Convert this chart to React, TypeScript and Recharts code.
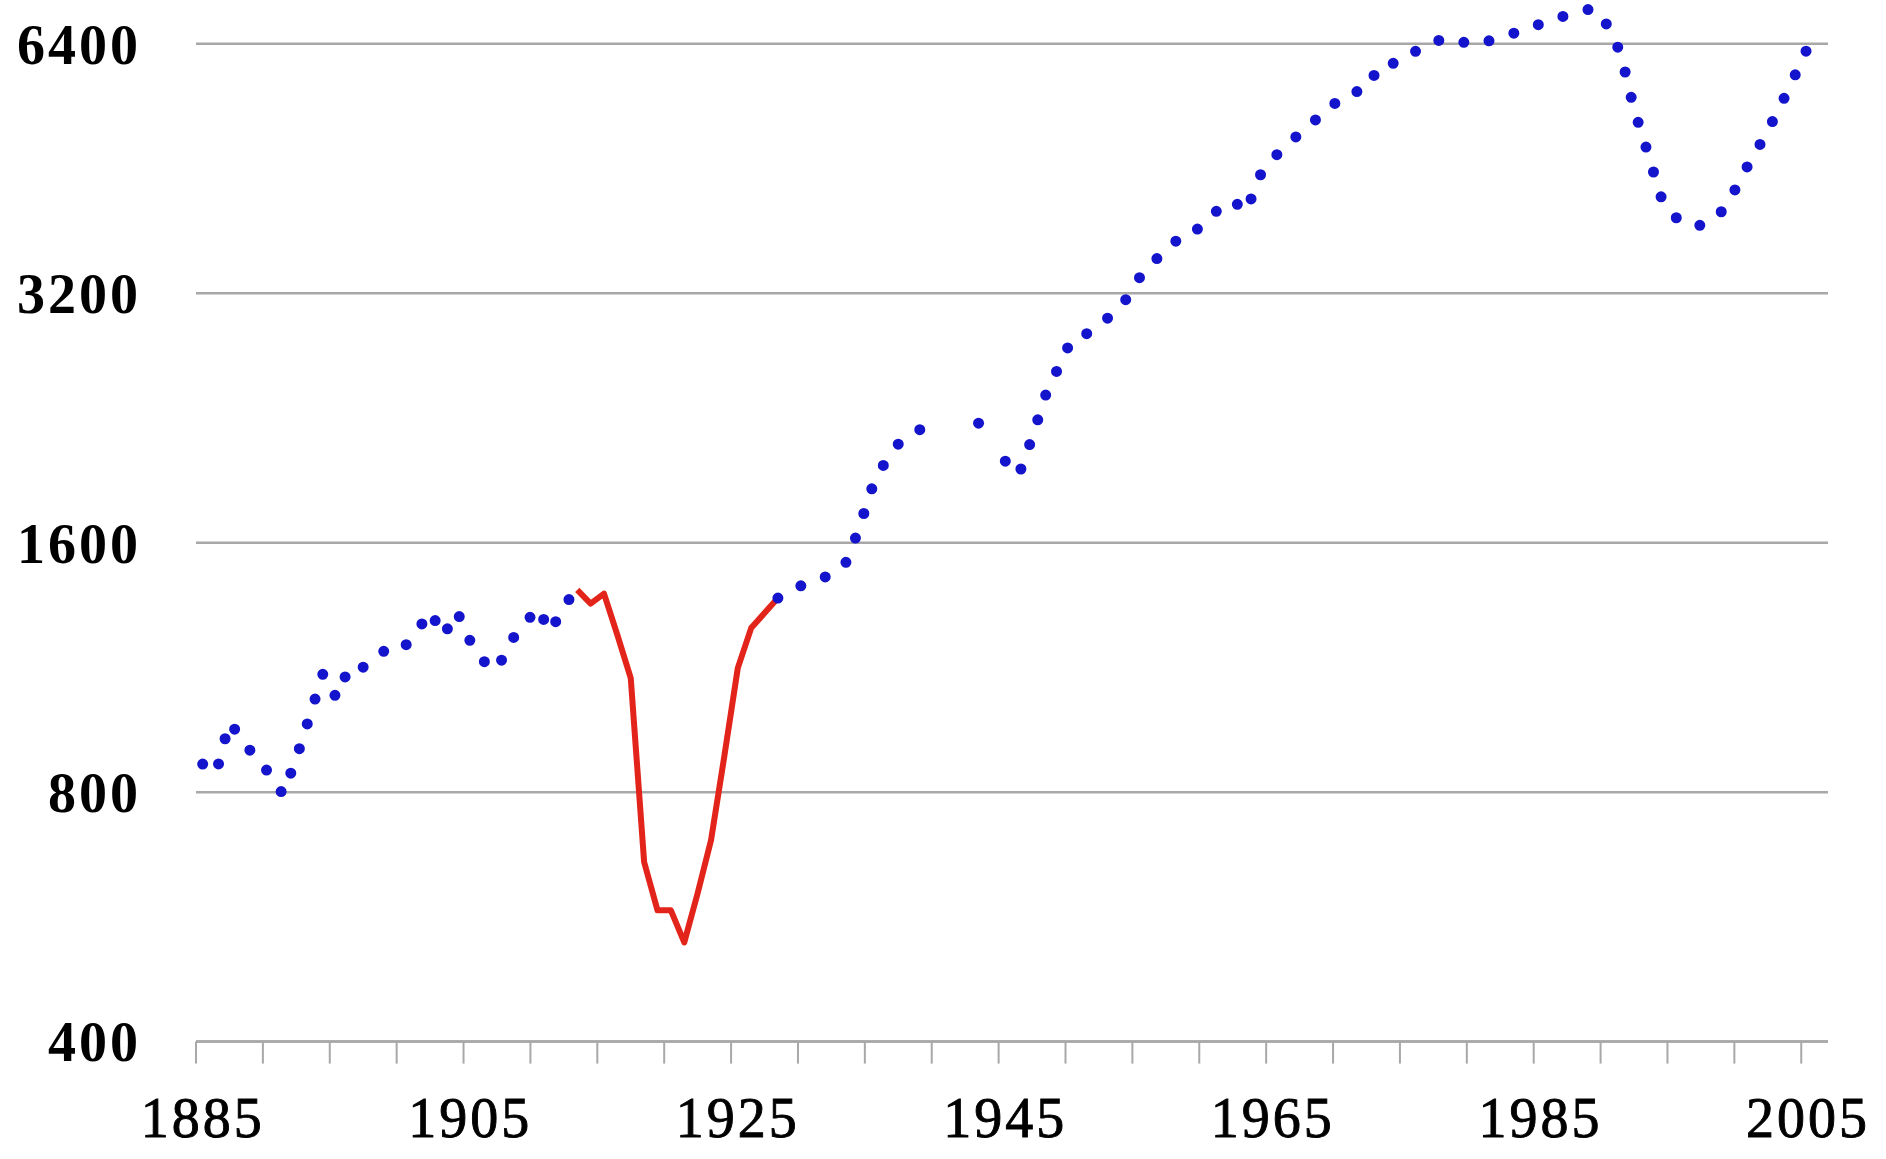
import React from 'react';
import { LineChart, Line, XAxis, YAxis, CartesianGrid } from 'recharts';

// Categories: one per year, 1885 .. 2005
const FIRST_YEAR = 1885;
const YEARS: number[] = Array.from({ length: 121 }, (_, i) => FIRST_YEAR + i);

const BLUE_VALUES: (number | null)[] = [
  865, 843, 972, 924, 877, 843, 795, 879, 988, 1113, // 1885-1894
  1039, 1138, 1132, 1164, 1200, 1194, 1248, 1323, 1234, 1323, // 1895-1904
  1217, 1151, 1123, 1217, 1269, 1337, 1248, 1344, 1403, null, // 1905-1914
  null, null, null, null, null, null, null, null, null, null, // 1915-1924
  null, null, null, 1372, 1402, 1426, 1442, 1466, 1503, 1652, // 1925-1934
  1856, 2001, 2104, 2157, 2212, 2249, null, null, 2230, null, // 1935-1944
  2007, 1930, 2142, 2408, 2611, 2824, 2853, 2932, 3016, 3143, // 1945-1954
  3337, 3495, 3581, 3739, 3770, 3925, 4046, 4144, 4008, 4430, // 1955-1964
  4657, 4814, 4992, 5161, 5263, 5516, 5593, 5631, 6046, 6062, // 1965-1974
  6130, 6338, 6427, 6506, 6444, 6382, 6444, 6507, 6590, 6700, // 1975-1984
  6757, 6841, 6937, 7005, 7064, 6740, 6233, 5336, 4742, 4188, // 1985-1994
  3963, 3862, 3865, 3930, 4092, 4415, 4708, 5028, 5409, 5847, // 1995-2004
  6342, // 2005
];

// Red solid series, 1913 .. 1928
const RED_YEARS: number[] = [1913, 1914, 1915, 1916, 1917, 1918, 1919, 1920, 1921, 1922, 1923, 1924, 1925, 1926, 1927, 1928];
const RED_VALUES: number[] = [1403, 1351, 1389, 1238, 1098, 659, 576, 576, 527, 604, 700, 885, 1129, 1262, 1316, 1372];

// Axis ticks
const Y_TICKS: number[] = [400, 800, 1600, 3200, 6400];
const Y_DOMAIN: [number, number] = [400, 7228];
const X_LABEL_TICKS: number[] = [1885, 1905, 1925, 1945, 1965, 1985, 2005];
const X_MARK_TICKS: number[] = [
  1884.5, 1889.5, 1894.5, 1899.5, 1904.5, 1909.5, 1914.5, 1919.5, 1924.5,
  1929.5, 1934.5, 1939.5, 1944.5, 1949.5, 1954.5, 1959.5, 1964.5, 1969.5,
  1974.5, 1979.5, 1984.5, 1989.5, 1994.5, 1999.5, 2004.5,
];
const X_DOMAIN: [number, number] = [1884.5, 2006.5];

const rows = YEARS.map((year, i) => {
  const r = RED_YEARS.indexOf(year);
  return {
    year,
    blue: BLUE_VALUES[i],
    red: r >= 0 ? RED_VALUES[r] : null,
  };
});

const GRID = '#a8a8a8';
const BLUE = '#1414cc';
const RED = '#e3241b';

// a blue point with no neighbours forms no line segment; draw it as one dot
const isIsolated = (i: number) =>
  BLUE_VALUES[i] != null && BLUE_VALUES[i - 1] == null && BLUE_VALUES[i + 1] == null;

const BlueDot = (p: any) => {
  if (p && isIsolated(p.index) && p.cx != null && p.cy != null) {
    return <circle key={`d${p.index}`} cx={p.cx} cy={p.cy} r={5.5} fill={BLUE} />;
  }
  return <g key={`d${p?.index}`} />;
};

export default function App() {
  return (
    <div style={{ position: 'absolute', left: 0, top: 0, background: '#fff' }}>
      <LineChart
        width={1886}
        height={1159}
        data={rows}
        margin={{ top: 0, right: 58, bottom: 0, left: 0 }}
      >
        <CartesianGrid
          xAxisId="years"
          vertical={false}
          horizontalValues={Y_TICKS}
          stroke={GRID}
          strokeWidth={2.5}
        />
        <XAxis
          xAxisId="marks"
          dataKey="year"
          type="number"
          domain={X_DOMAIN}
          ticks={X_MARK_TICKS}
          interval={0}
          tickFormatter={() => ''}
          tickSize={22}
          tickLine={{ stroke: GRID, strokeWidth: 2 }}
          axisLine={{ stroke: GRID, strokeWidth: 2.5 }}
          height={30}
        />
        <XAxis
          xAxisId="years"
          dataKey="year"
          type="number"
          domain={X_DOMAIN}
          ticks={X_LABEL_TICKS}
          interval={0}
          tickLine={false}
          axisLine={false}
          tickSize={0}
          tickMargin={25.6}
          height={87.4}
          tick={{ fontFamily: 'Liberation Serif', fontSize: 56, fill: '#000', stroke: '#000', strokeWidth: 0.9, letterSpacing: 3 }}
        />
        <YAxis
          scale="log"
          type="number"
          domain={Y_DOMAIN}
          allowDataOverflow
          ticks={Y_TICKS}
          interval={0}
          axisLine={false}
          tickLine={false}
          tickSize={0}
          tickMargin={55}
          width={196}
          tick={{ fontFamily: 'Liberation Serif', fontSize: 56, fontWeight: 'bold', fill: '#000', letterSpacing: 3 }}
        />
        <Line
          xAxisId="years"
          type="linear"
          dataKey="red"
          stroke={RED}
          strokeWidth={6}
          strokeLinejoin="round"
          dot={false}
          activeDot={false}
          isAnimationActive={false}
        />
        <Line
          xAxisId="years"
          type="linear"
          dataKey="blue"
          stroke={BLUE}
          strokeWidth={11}
          strokeDasharray="0 26"
          strokeLinecap="round"
          dot={BlueDot}
          activeDot={false}
          isAnimationActive={false}
        />
      </LineChart>
    </div>
  );
}
